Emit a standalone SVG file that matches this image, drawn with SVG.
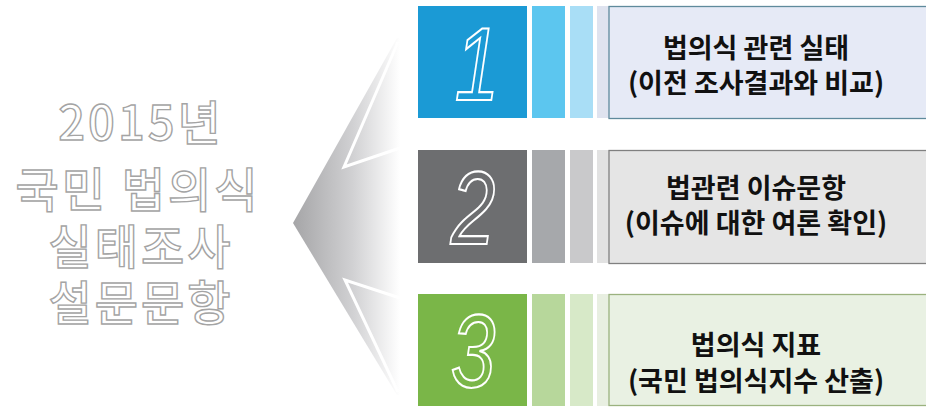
<svg xmlns="http://www.w3.org/2000/svg" width="926" height="410" viewBox="0 0 926 410">
<defs>
<linearGradient id="arrowGrad" x1="293" y1="0" x2="400" y2="0" gradientUnits="userSpaceOnUse">
<stop offset="0" stop-color="#a5a5a7"/>
<stop offset="0.55" stop-color="#d0d0d2"/>
<stop offset="1" stop-color="#ffffff"/>
</linearGradient>
</defs>
<style>
.title{font-family:"Noto Sans CJK KR","Noto Sans",sans-serif;font-weight:500;font-size:47px;letter-spacing:3px;fill:#ffffff;stroke:#a4a4a4;stroke-width:1.4;text-anchor:middle}
.num{font-family:"Liberation Sans",sans-serif;font-style:italic;font-size:104px;fill:none;stroke:#ffffff;stroke-width:2.2;text-anchor:middle}
.lbl{font-family:"Noto Sans CJK KR","Noto Sans",sans-serif;font-weight:700;font-size:27px;fill:#111111;text-anchor:middle}
.sep{fill:none;stroke:#ffffff;stroke-width:3;stroke-linejoin:miter}
</style>
<rect width="926" height="410" fill="#ffffff"/>

<g id="title">
<text class="title" x="141" y="140">2015년</text>
<text class="title" x="138" y="207">국민 법의식</text>
<text class="title" x="141" y="264">실태조사</text>
<text class="title" x="141" y="320">설문문항</text>
</g>

<g id="connectors">
<polygon points="293,223 397,38 400,38 400,395 397,395" fill="url(#arrowGrad)"/>
<path class="sep" d="M398,42 L344,167 L400,148"/>
<path class="sep" d="M398,392 L345,280 L400,298"/>
</g>

<g id="item1">
<rect x="418" y="6" width="109" height="112" fill="#1b9ad5"/>
<rect x="532" y="6" width="33" height="112" fill="#5cc6ef"/>
<rect x="570" y="6" width="23" height="112" fill="#a9def6"/>
<rect x="597" y="6" width="12" height="112" fill="#dfe3ef"/>
<rect x="609" y="6.5" width="330" height="112" fill="#e6eaf6" stroke="#5f8a9c" stroke-width="1.3"/>
<text class="num" x="477" y="100" transform="translate(477 0) scale(0.77 1) translate(-477 0)">1</text>
<text class="lbl" x="756" y="58">법의식 관련 실태</text>
<text class="lbl" x="756" y="93">(이전 조사결과와 비교)</text>
</g>

<g id="item2">
<rect x="418" y="150" width="109" height="113" fill="#6d6e70"/>
<rect x="532" y="150" width="33" height="113" fill="#a6a8ab"/>
<rect x="570" y="150" width="23" height="113" fill="#c9c9cb"/>
<rect x="597" y="150" width="12" height="113" fill="#e2e2e2"/>
<rect x="609" y="150.5" width="330" height="113" fill="#e5e5e5" stroke="#808080" stroke-width="1.3"/>
<text class="num" x="473" y="244" transform="translate(473 0) scale(0.77 1) translate(-473 0)">2</text>
<text class="lbl" x="756" y="198">법관련 이슈문항</text>
<text class="lbl" x="756" y="233">(이슈에 대한 여론 확인)</text>
</g>

<g id="item3">
<rect x="418" y="294" width="109" height="112" fill="#7ab648"/>
<rect x="532" y="294" width="33" height="112" fill="#b7d79b"/>
<rect x="570" y="294" width="23" height="112" fill="#d7e9c8"/>
<rect x="597" y="294" width="12" height="112" fill="#e8efe1"/>
<rect x="609" y="294.5" width="330" height="111" fill="#e9f1e3" stroke="#9bb27f" stroke-width="1.3"/>
<text class="num" x="473" y="387" transform="translate(473 0) scale(0.77 1) translate(-473 0)">3</text>
<text class="lbl" x="756" y="355">법의식 지표</text>
<text class="lbl" x="756" y="391">(국민 법의식지수 산출)</text>
</g>
</svg>
